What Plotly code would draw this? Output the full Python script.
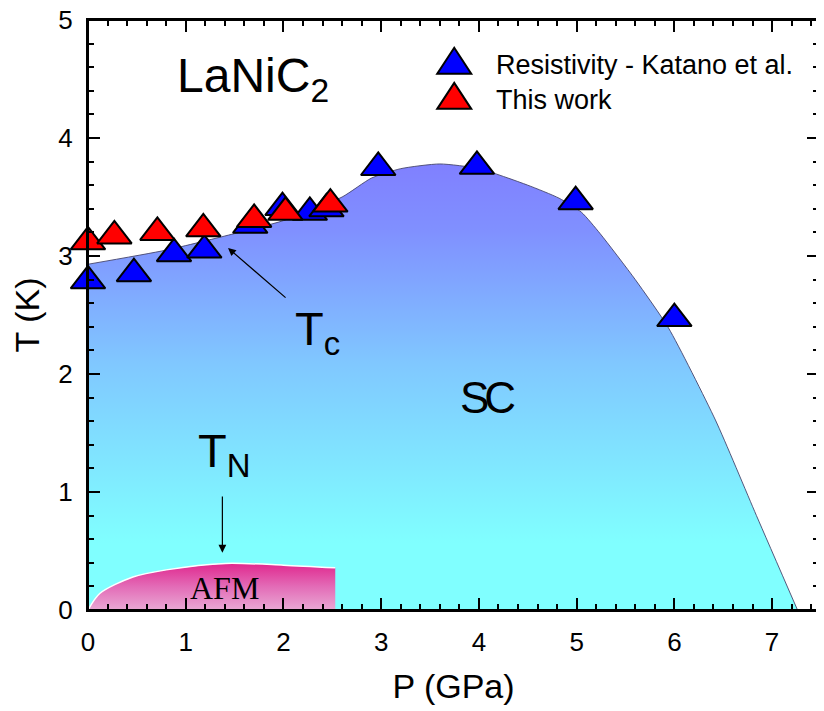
import plotly.graph_objects as go

# Tc from resistivity (Katano et al.)
katano_p = [0.0, 0.47, 0.88, 1.19, 1.66, 1.99, 2.27, 2.44, 2.97, 3.98, 4.99, 6.00]
katano_t = [2.79, 2.85, 3.02, 3.05, 3.26, 3.41, 3.37, 3.40, 3.75, 3.76, 3.46, 2.47]

# Tc from this work
this_p = [0.0, 0.27, 0.71, 1.18, 1.70, 2.02, 2.48]
this_t = [3.12, 3.17, 3.20, 3.23, 3.31, 3.37, 3.44]

# SC dome boundary
sc_p = [0, 0.8, 1.5, 2.0, 2.6, 2.9, 3.2, 3.6, 4.0, 4.5, 4.82, 5.05, 5.24, 5.6, 5.94, 6.42, 6.84, 7.26]
sc_t = [2.93, 3.05, 3.19, 3.30, 3.50, 3.66, 3.74, 3.78, 3.74, 3.60, 3.49, 3.37, 3.19, 2.80, 2.39, 1.61, 0.80, 0]

# AFM boundary
afm_p = [0, 0.12, 0.46, 0.8, 1.41, 2.0, 2.53]
afm_t = [0, 0.14, 0.28, 0.34, 0.395, 0.38, 0.357]

legend_names = ["Resistivity - Katano et al.", "This work"]
legend_colors = ["#0000ff", "#ff0000"]

X_RANGE = [0, 7.48]
Y_RANGE = [0, 5]

FONT = "Liberation Sans, Arial, sans-serif"

fig = go.Figure()

fig.add_trace(go.Scatter(
    x=sc_p, y=sc_t, mode="lines", fill="tozeroy",
    line=dict(color="rgba(70,70,110,0.9)", width=1, shape="spline", smoothing=0.6),
    fillgradient=dict(type="vertical", start=0, stop=3.78,
                      colorscale=[[0, "#80ffff"], [0.15, "#80ffff"], [0.55, "#80c8ff"],
                                  [0.85, "#8090ff"], [1, "#8080ff"]]),
    hoverinfo="skip",
))

fig.add_trace(go.Scatter(
    x=afm_p, y=afm_t, mode="lines", fill="tozeroy",
    line=dict(color="white", width=1.5, shape="spline", smoothing=0.8),
    fillgradient=dict(type="vertical", start=0, stop=0.395,
                      colorscale=[[0, "#e9a8d4"], [0.5, "#e36cb7"], [1, "#e0288e"]]),
    hoverinfo="skip",
))

fig.add_trace(go.Scatter(
    x=katano_p, y=katano_t, mode="markers", cliponaxis=False,
    marker=dict(symbol="triangle-up", size=30, color="#0000ff", line=dict(color="black", width=2)),
))
fig.add_trace(go.Scatter(
    x=this_p, y=this_t, mode="markers", cliponaxis=False,
    marker=dict(symbol="triangle-up", size=30, color="#ff0000", line=dict(color="black", width=2)),
))

# empty traces so the overlay tick axes get drawn
for k in (2, 3, 4):
    fig.add_trace(go.Scatter(x=[None], y=[None], xaxis=f"x{k}", yaxis=f"y{k}",
                             mode="markers", hoverinfo="skip"))

# hand-made legend: triangle symbols sized in pixels, text as annotations
tri = "M-17,-8 L17,-8 L0,18 Z"
for name, col, yy in zip(legend_names, legend_colors, [0.9225, 0.863]):
    fig.add_shape(type="path", path=tri, xref="paper", yref="paper",
                  xsizemode="pixel", ysizemode="pixel", xanchor=0.501, yanchor=yy,
                  fillcolor=col, line=dict(color="black", width=2))
    fig.add_annotation(x=0.556, y=yy + 0.002, xref="paper", yref="paper", text=name, showarrow=False,
                       xanchor="left", yanchor="middle", font=dict(size=27, family=FONT, color="black"))

# frame
fig.add_shape(type="rect", xref="paper", yref="paper", x0=0, x1=1, y0=0, y1=1,
              line=dict(color="black", width=2), layer="above")

# labels
fig.add_annotation(x=0.89, y=4.50, text="LaNiC<sub>2</sub>", showarrow=False, xanchor="left",
                   yanchor="middle", font=dict(size=48, family=FONT, color="black"))
fig.add_annotation(x=2.10, y=2.36, text="T<sub>c</sub>", showarrow=False, xanchor="left",
                   yanchor="middle", font=dict(size=47, family=FONT, color="black"))
fig.add_annotation(x=1.10, y=1.32, text="T<sub>N</sub>", showarrow=False, xanchor="left",
                   yanchor="middle", font=dict(size=47, family=FONT, color="black"))
fig.add_annotation(x=4.09, y=1.80, text='<span style="letter-spacing:-5px">SC</span>', showarrow=False,
                   font=dict(size=44, family=FONT, color="black"))
fig.add_annotation(x=1.40, y=0.186, text="AFM", showarrow=False,
                   font=dict(size=32, family="Liberation Serif, Times New Roman, serif", color="black"))

# arrows
fig.add_annotation(x=1.433, y=3.068, ax=2.037, ay=2.636, axref="x", ayref="y", text="",
                   showarrow=True, arrowhead=2, arrowsize=1.3, arrowwidth=1.2, arrowcolor="black")
fig.add_annotation(x=1.375, y=0.486, ax=1.375, ay=0.975, axref="x", ayref="y", text="",
                   showarrow=True, arrowhead=2, arrowsize=1.3, arrowwidth=1.2, arrowcolor="black")

base_axis = dict(
    showline=True, linecolor="black", linewidth=2, mirror="allticks",
    ticks="inside", tickwidth=2, tickcolor="black",
    showgrid=False, zeroline=False, automargin=False,
)


def tick_axis(rng, side, over, step, length):
    # extra axes only for tick marks (major / minor on both sides)
    return dict(range=rng, side=side, overlaying=over, dtick=step, tick0=0, ticklen=length,
                showticklabels=False, **base_axis)


# page body has an 8px margin, so the figure is 8px smaller and shifted
fig.update_layout(
    template="none",
    width=816, height=703,
    margin=dict(l=80, r=5, t=12, b=101),
    paper_bgcolor="white", plot_bgcolor="white",
    showlegend=False,
    xaxis=dict(range=X_RANGE, dtick=1, tick0=0, ticklen=12,
               ticklabelstandoff=8, ticklabeloverflow="allow",
               tickfont=dict(size=26, family=FONT, color="black"),
               minor=dict(ticks="inside", ticklen=6, tickwidth=2, tickcolor="black", dtick=0.2),
               title=dict(text="P (GPa)", font=dict(size=34, family=FONT, color="black"), standoff=18),
               **base_axis),
    yaxis=dict(range=Y_RANGE, dtick=1, tick0=0, ticklen=12,
               ticklabelstandoff=8, ticklabeloverflow="allow",
               tickfont=dict(size=26, family=FONT, color="black"),
               minor=dict(ticks="inside", ticklen=6, tickwidth=2, tickcolor="black", dtick=0.2),
               title=dict(text="T (K)", font=dict(size=34, family=FONT, color="black"), standoff=29),
               **base_axis),
    xaxis2=tick_axis(X_RANGE, "top", "x", 1, 12),
    yaxis2=tick_axis(Y_RANGE, "right", "y", 1, 12),
    xaxis3=tick_axis(X_RANGE, "bottom", "x", 0.2, 6),
    yaxis3=tick_axis(Y_RANGE, "left", "y", 0.2, 6),
    xaxis4=tick_axis(X_RANGE, "top", "x", 0.2, 6),
    yaxis4=tick_axis(Y_RANGE, "right", "y", 0.2, 6),
)

fig.write_html("out.html")
